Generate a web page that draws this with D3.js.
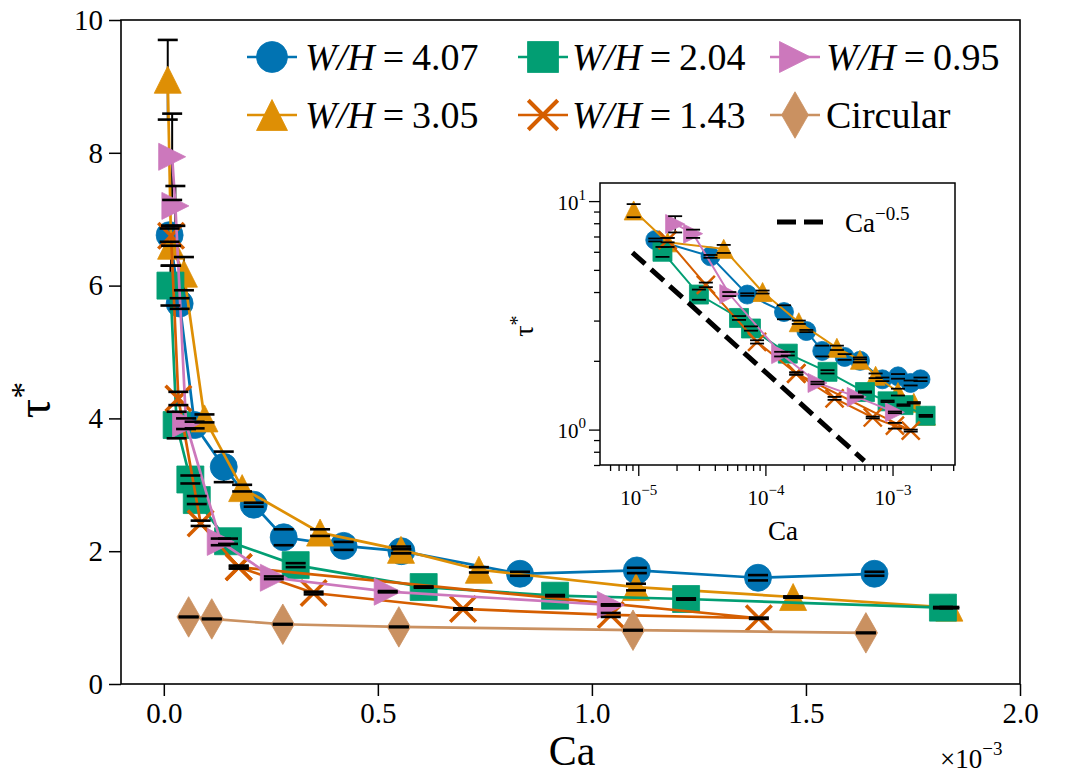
<!DOCTYPE html>
<html><head><meta charset="utf-8">
<script src="https://cdn.jsdelivr.net/npm/d3@7"></script>
<style>
body{margin:0;background:#fff}
text{font-family:"Liberation Serif","Times New Roman",serif;fill:#000}
</style>
</head><body>
<svg id="chart" width="1066" height="776"></svg>
<script>
// ---- data (Ca in units of 1e-3) ----
const caW407  = [0.0136, 0.037, 0.072, 0.14, 0.21, 0.28, 0.42, 0.555, 0.832, 1.105, 1.388, 1.66];
const tauW407 = [6.76, 5.73, 3.9, 3.27, 2.7, 2.21, 2.08, 2.0, 1.66, 1.71, 1.6, 1.66];
const errW407 = [0.1, 0.08, 0.05, 0.23, 0.03, 0.12, 0.06, 0.03, 0.03, 0.04, 0.04, 0.03];

const caW305  = [0.0092, 0.017, 0.047, 0.095, 0.183, 0.365, 0.554, 0.736, 1.103, 1.47, 1.835];
const tauW305 = [9.1, 6.6, 6.18, 4.0, 2.95, 2.28, 2.02, 1.72, 1.46, 1.31, 1.15];
const errW305 = [0.6, 0.3, 0.25, 0.06, 0.05, 0.05, 0.05, 0.04, 0.05, 0.01, 0.01];

const caW204  = [0.0155, 0.03, 0.062, 0.077, 0.15, 0.308, 0.607, 0.914, 1.22, 1.82];
const tauW204 = [6.0, 3.9, 3.08, 2.77, 2.15, 1.79, 1.46, 1.33, 1.28, 1.15];
const errW204 = [0.3, 0.2, 0.06, 0.06, 0.04, 0.03, 0.01, 0.01, 0.01, 0.01];

// the W/H = 1.43 run ends by returning to the Ca = 0.175 point (second line seen in the figure)
const caW143  = [0.017, 0.034, 0.086, 0.175, 0.35, 0.699, 1.044, 1.39, 0.175];
const tauW143 = [6.75, 4.3, 2.42, 1.76, 1.37, 1.13, 1.04, 0.99, 1.76];
const errW143 = [0.15, 0.1, 0.04, 0.02, 0.02, 0.01, 0.03, 0.01, 0.02];

const caW095  = [0.0195, 0.027, 0.052, 0.133, 0.257, 0.523, 1.044];
const tauW095 = [7.94, 7.2, 3.92, 2.14, 1.6, 1.39, 1.19];
const errW095 = [0.65, 0.3, 0.08, 0.05, 0.02, 0.01, 0.01];

const caCirc  = [0.058, 0.112, 0.278, 0.549, 1.096, 1.64];
const tauCirc = [1.01, 0.98, 0.9, 0.86, 0.81, 0.77];
const errCirc = [0.005, 0.005, 0.005, 0.005, 0.005, 0.005];

const legendLabels = ["W/H = 4.07","W/H = 3.05","W/H = 2.04","W/H = 1.43","W/H = 0.95","Circular"];
const mainXTicks = [0, 0.5, 1.0, 1.5, 2.0];
const mainYTicks = [0, 2, 4, 6, 8, 10];
const insetXMajor = [1e-5, 1e-4, 1e-3];
const insetYMajor = [1, 10];
// reference slope line endpoints (Ca, tau)
const refCa  = [9e-6, 6e-4];
const refTau = [5.95, 0.73];

const series = [
  {ca: caW407, tau: tauW407, err: errW407, color: "#0173b2", shape: "circle"},
  {ca: caW305, tau: tauW305, err: errW305, color: "#de8f05", shape: "tri"},
  {ca: caW204, tau: tauW204, err: errW204, color: "#029e73", shape: "square"},
  {ca: caW143, tau: tauW143, err: errW143, color: "#d55e00", shape: "x"},
  {ca: caW095, tau: tauW095, err: errW095, color: "#cc78bc", shape: "right"},
  {ca: caCirc, tau: tauCirc, err: errCirc, color: "#ca9161", shape: "diamond"}
];

const svg = d3.select("#chart");

function markerPath(shape, s) {
  const h = s / 2;
  switch (shape) {
    case "circle": return `M${h},0A${h},${h} 0 1,1 ${-h},0A${h},${h} 0 1,1 ${h},0Z`;
    case "square": { const q = s * 0.5; return `M${-q},${-q}H${q}V${q}H${-q}Z`; }
    case "tri": return `M0,${-h}L${h},${h}L${-h},${h}Z`;
    case "right": return `M${h},0L${-h},${-h}L${-h},${h}Z`;
    case "diamond": { const w = s * 0.43, t = s * 0.75; return `M0,${-t}L${w},0L0,${t}L${-w},0Z`; }
    case "x": { const q = h * 0.95; return `M${-q},${-q}L${q},${q}M${-q},${q}L${q},${-q}`; }
  }
}
function drawMarker(g, shape, color, x, y, s) {
  const p = g.append("path").attr("d", markerPath(shape, s)).attr("transform", `translate(${x},${y})`);
  if (shape === "x") p.attr("fill", "none").attr("stroke", color).attr("stroke-width", s * 0.13);
  else p.attr("fill", color).attr("stroke", color).attr("stroke-width", 0.8);
}

// draws error bars (below), series (middle), caps (top)
function drawPanel(g, xs, ys, list, ms, lw, capHalf, capW, barW) {
  const bars = g.append("g"), data = g.append("g"), caps = g.append("g");
  const ln = d3.line().x((d) => xs(d[0])).y((d) => ys(d[1]));
  list.forEach(s => {
    const pts = s.ca.map((c, i) => [s.scale * c, s.tau[i]]);
    data.append("path").attr("d", ln(pts)).attr("fill", "none").attr("stroke", s.color).attr("stroke-width", lw);
    pts.forEach(p => drawMarker(data, s.shape, s.color, xs(p[0]), ys(p[1]), ms));
    pts.forEach((p, i) => {
      const xx = xs(p[0]), ya = ys(p[1] + s.err[i]), yb = ys(p[1] - s.err[i]);
      bars.append("line").attr("x1", xx).attr("x2", xx).attr("y1", ya).attr("y2", yb).attr("stroke", "#000").attr("stroke-width", barW);
      [ya, yb].forEach(yy => caps.append("line").attr("x1", xx - capHalf).attr("x2", xx + capHalf).attr("y1", yy).attr("y2", yy)
        .attr("stroke", "#000").attr("stroke-width", capW));
    });
  });
}

// ---------------- main axes ----------------
const X0 = 121, X1 = 1020, Y0 = 684, Y1 = 20;
const x = d3.scaleLinear().domain([-0.1, 2.0]).range([X0, X1]);
const y = d3.scaleLinear().domain([0, 10]).range([Y0, Y1]);

const gx = svg.append("g").attr("transform", `translate(0,${Y0})`)
  .call(d3.axisBottom(x).tickValues(mainXTicks).tickFormat(d3.format(".1f")).tickSize(12).tickPadding(5));
const gy = svg.append("g").attr("transform", `translate(${X0},0)`)
  .call(d3.axisLeft(y).tickValues(mainYTicks).tickFormat(d3.format("d")).tickSize(12).tickPadding(6));
[gx, gy].forEach(g => {
  g.select(".domain").remove();
  g.selectAll(".tick line").attr("stroke", "#000").attr("stroke-width", 1.5);
  g.selectAll(".tick text").attr("font-size", 29);
});
gx.selectAll(".tick text").attr("dy", "0.75em");
svg.append("rect").attr("x", X0).attr("y", Y1).attr("width", X1 - X0).attr("height", Y0 - Y1)
  .attr("fill", "none").attr("stroke", "#000").attr("stroke-width", 1.6);

drawPanel(svg.append("g"), x, y, series.map(s => Object.assign({scale: 1}, s)), 27, 2.7, 10, 2.6, 2);

// axis labels
svg.append("text").attr("x", 572).attr("y", 765).attr("text-anchor", "middle").attr("font-size", 42).text("Ca");
svg.append("text").attr("transform", "translate(50,400) rotate(-90)").attr("text-anchor", "middle")
  .attr("font-size", 48).html('τ<tspan dy="-16" font-size="34">*</tspan>');
svg.append("text").attr("x", 940).attr("y", 768).attr("font-size", 27)
  .html('×10<tspan dy="-13" font-size="19">−3</tspan>');

// legend (3 columns x 2 rows, column-major)
const legCols = [[247, 305], [518, 572], [770, 826]];
const legRows = [57, 115];
series.forEach((s, k) => {
  const col = Math.floor(k / 2), row = k % 2;
  const [lx, tx] = legCols[col], ly = legRows[row];
  svg.append("line").attr("x1", lx).attr("x2", lx + 50).attr("y1", ly).attr("y2", ly).attr("stroke", s.color).attr("stroke-width", 2.7);
  drawMarker(svg, s.shape, s.color, lx + 25, ly, 31);
  const t = svg.append("text").attr("x", tx).attr("y", ly + 13).attr("font-size", 38);
  const lab = legendLabels[k];
  if (lab.startsWith("W/H")) {
    t.append("tspan").attr("font-style", "italic").text("W/H");
    t.append("tspan").attr("dx", 8).text("=");
    t.append("tspan").attr("dx", 8).text(lab.split("= ")[1]);
  } else t.text(lab);
});

// ---------------- inset ----------------
const IX0 = 600, IX1 = 955, IY0 = 465, IY1 = 183;
const xi = d3.scaleLog().domain([5e-6, 3.1e-3]).range([IX0, IX1]);
const yi = d3.scaleLog().domain([0.7, 12]).range([IY0, IY1]);
svg.append("rect").attr("x", IX0).attr("y", IY1).attr("width", IX1 - IX0).attr("height", IY0 - IY1).attr("fill", "#fff");

const xMinor = [], yMinor = [];
[1e-6, 1e-5, 1e-4, 1e-3].forEach(d => { for (let m = 2; m <= 9; m++) { const v = m * d; if (v >= 5e-6 && v <= 3.1e-3) xMinor.push(v); } });
[0.1, 1].forEach(d => { for (let m = 2; m <= 9; m++) { const v = m * d; if (v >= 0.7 && v <= 12) yMinor.push(v); } });

const gxi = svg.append("g").attr("transform", `translate(0,${IY0})`);
gxi.append("g").call(d3.axisBottom(xi).tickValues(xMinor).tickFormat("").tickSize(6));
const gxiM = gxi.append("g").call(d3.axisBottom(xi).tickValues(insetXMajor).tickFormat("").tickSize(11));
const gyi = svg.append("g").attr("transform", `translate(${IX0},0)`);
gyi.append("g").call(d3.axisLeft(yi).tickValues(yMinor).tickFormat("").tickSize(6));
const gyiM = gyi.append("g").call(d3.axisLeft(yi).tickValues(insetYMajor).tickFormat("").tickSize(11));
[gxi, gyi].forEach(g => { g.selectAll(".domain").remove(); g.selectAll(".tick line").attr("stroke", "#000").attr("stroke-width", 1.3); });
gxiM.selectAll(".tick").append("text").attr("y", 40).attr("text-anchor", "middle").attr("font-size", 21)
  .html(d => `10<tspan dy="-10" font-size="15">−${Math.round(-Math.log10(d))}</tspan>`);
gyiM.selectAll(".tick").append("text").attr("x", -14).attr("y", 8).attr("text-anchor", "end").attr("font-size", 21)
  .html(d => `10<tspan dy="-10" font-size="15">${Math.round(Math.log10(d))}</tspan>`);

svg.append("text").attr("x", 783).attr("y", 540).attr("text-anchor", "middle").attr("font-size", 27).text("Ca");
svg.append("text").attr("transform", "translate(533,326) rotate(-90)").attr("text-anchor", "middle")
  .attr("font-size", 28).html('τ<tspan dy="-9" font-size="20">*</tspan>');

svg.append("clipPath").attr("id", "insetClip").append("rect").attr("x", IX0).attr("y", IY1).attr("width", IX1 - IX0).attr("height", IY0 - IY1);
const inset = svg.append("g").attr("clip-path", "url(#insetClip)");
drawPanel(inset, xi, yi, series.slice(0, 5).map(s => Object.assign({scale: 1e-3}, s)), 19, 2, 7, 1.8, 1.5);
const linei = d3.line().x((d) => xi(d[0])).y((d) => yi(d[1]));
inset.append("path").attr("d", linei(refCa.map((c, i) => [c, refTau[i]])))
  .attr("fill", "none").attr("stroke", "#000").attr("stroke-width", 5).attr("stroke-dasharray", "17,8");
svg.append("rect").attr("x", IX0).attr("y", IY1).attr("width", IX1 - IX0).attr("height", IY0 - IY1)
  .attr("fill", "none").attr("stroke", "#000").attr("stroke-width", 1.5);

// inset legend
svg.append("line").attr("x1", 777).attr("x2", 830).attr("y1", 222).attr("y2", 222)
  .attr("stroke", "#000").attr("stroke-width", 5).attr("stroke-dasharray", "19,8");
svg.append("text").attr("x", 845).attr("y", 232).attr("font-size", 27)
  .html('Ca<tspan dy="-12" font-size="19">−0.5</tspan>');
</script>
</body></html>
